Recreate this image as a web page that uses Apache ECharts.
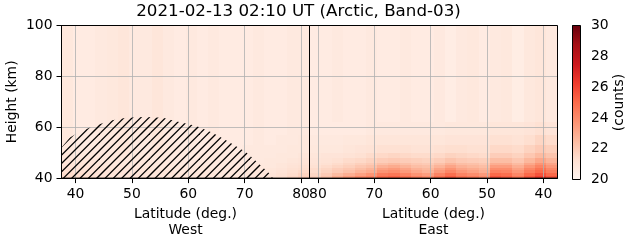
<!DOCTYPE html>
<html>
<head>
<meta charset="utf-8">
<script src="https://cdn.jsdelivr.net/npm/echarts@6/dist/echarts.min.js"></script>
<style>
html,body{margin:0;padding:0;background:#fff;}
#c{width:631px;height:243px;}
</style>
</head>
<body>
<div id="c"></div>
<script>
// ---------------- data ----------------
const titleText = '2021-02-13 02:10 UT (Arctic, Band-03)';
const redsColors = ['#fff5f0','#fee0d2','#fcbba1','#fc9272','#fb6a4a','#ef3b2c','#cb181d','#a50f15','#67000d'];
const countMin = 20, countMax = 30;
const latEdges = [37.5,39.5,41.5,43.5,45.5,47.5,49.5,51.5,53.5,55.5,57.5,59.5,61.5,63.5,65.5,67.5,69.5,71.5,73.5,75.5,77.5,79.5,81.5];
const heightEdges = [40,41,42,43,44,45,46,48,50,53,57,62,100];
const latTicks = [40,50,60,70,80];
// rows: bottom (40-41 km) to top (62-100 km); columns: latitude ascending 38.5 ... 80.5
const westCounts = [
 [21.5,21.4,21.3,21.2,21.1,21.1,21.0,21.0,21.0,20.9,20.9,20.9,20.9,20.9,20.9,20.9,20.9,21.0,21.1,21.3,21.6,21.9],
 [21.4,21.3,21.2,21.1,21.0,21.0,21.0,20.9,20.9,20.9,20.9,20.9,20.9,20.9,20.8,20.8,20.9,20.9,21.0,21.2,21.4,21.7],
 [21.3,21.2,21.1,21.0,21.0,21.0,20.9,20.9,20.9,20.9,20.8,20.8,20.8,20.8,20.8,20.8,20.8,20.9,20.9,21.1,21.3,21.5],
 [21.2,21.1,21.0,21.0,20.9,20.9,20.9,20.9,20.8,20.8,20.8,20.8,20.8,20.8,20.8,20.8,20.8,20.8,20.9,21.0,21.2,21.3],
 [21.1,21.0,21.0,20.9,20.9,20.9,20.8,20.8,20.8,20.8,20.8,20.8,20.8,20.7,20.7,20.7,20.8,20.8,20.8,20.9,21.1,21.2],
 [21.0,21.0,20.9,20.9,20.8,20.8,20.8,20.8,20.8,20.8,20.7,20.7,20.7,20.7,20.7,20.7,20.7,20.8,20.8,20.9,21.0,21.1],
 [20.9,20.9,20.9,20.8,20.8,20.8,20.8,20.8,20.7,20.7,20.7,20.7,20.7,20.7,20.7,20.7,20.7,20.7,20.8,20.8,20.9,21.0],
 [20.9,20.8,20.8,20.8,20.8,20.9,20.8,20.8,20.8,20.7,20.7,20.7,20.7,20.7,20.7,20.7,20.7,20.7,20.7,20.8,20.8,20.9],
 [20.8,20.7,20.7,20.7,20.8,20.9,20.7,20.7,20.9,20.7,20.7,20.7,20.6,20.7,20.6,20.6,20.7,20.7,20.7,20.7,20.8,20.8],
 [20.8,20.6,20.6,20.7,20.8,20.9,20.7,20.7,20.9,20.7,20.6,20.7,20.6,20.7,20.6,20.6,20.6,20.7,20.6,20.7,20.7,20.8],
 [20.8,20.6,20.6,20.7,20.8,20.9,20.7,20.7,20.9,20.7,20.6,20.7,20.6,20.7,20.6,20.6,20.6,20.7,20.6,20.6,20.7,20.7],
 [20.8,20.6,20.6,20.7,20.8,20.9,20.7,20.7,20.9,20.7,20.6,20.7,20.6,20.7,20.6,20.6,20.6,20.7,20.6,20.6,20.7,20.7]
];
const eastCounts = [
 [25.6,26.2,25.5,24.6,25.3,25.6,24.0,24.5,24.8,25.4,24.8,24.0,24.3,24.8,25.2,25.0,24.3,24.0,23.5,23.0,22.3,21.8],
 [25.0,25.6,25.0,24.1,24.8,25.0,23.5,23.9,24.2,24.8,24.2,23.4,23.7,24.2,24.6,24.4,23.7,23.3,22.9,22.5,22.0,21.6],
 [24.4,25.0,24.4,23.6,24.2,24.3,22.9,23.3,23.6,24.1,23.5,22.8,23.1,23.5,23.9,23.7,23.0,22.7,22.3,22.0,21.7,21.4],
 [24.1,24.7,24.1,23.3,23.9,23.9,22.7,23.0,23.2,23.7,23.2,22.6,22.8,23.2,23.5,23.3,22.7,22.4,22.1,21.9,21.6,21.4],
 [23.6,24.2,23.6,22.9,23.4,23.4,22.4,22.6,22.8,23.2,22.7,22.3,22.4,22.7,23.0,22.8,22.3,22.1,21.8,21.6,21.4,21.2],
 [23.2,23.7,23.1,22.5,22.9,22.9,22.1,22.3,22.4,22.7,22.3,22.0,22.1,22.3,22.5,22.3,22.0,21.8,21.6,21.4,21.2,21.1],
 [22.7,23.1,22.6,22.1,22.4,22.4,21.8,21.9,22.0,22.2,21.9,21.7,21.8,21.9,22.0,21.9,21.7,21.5,21.4,21.2,21.1,21.0],
 [22.2,22.5,22.1,21.7,21.9,21.9,21.4,21.5,21.6,21.7,21.5,21.4,21.4,21.5,21.6,21.5,21.4,21.2,21.1,21.0,21.0,20.9],
 [21.8,22.0,21.7,21.4,21.5,21.5,21.2,21.2,21.3,21.3,21.2,21.1,21.1,21.2,21.2,21.2,21.1,21.0,20.9,20.8,20.8,20.8],
 [21.4,21.6,21.3,21.1,21.2,21.2,21.0,21.0,21.0,21.0,20.9,20.9,20.9,20.9,20.9,20.9,20.9,20.8,20.8,20.7,20.7,20.7],
 [21.0,21.2,21.0,20.9,20.9,20.9,20.8,20.8,20.8,20.8,20.7,20.7,20.7,20.7,20.7,20.7,20.7,20.6,20.6,20.6,20.6,20.6],
 [20.7,20.9,20.8,20.5,20.8,20.7,20.6,20.8,20.7,20.5,20.7,20.6,20.6,20.7,20.6,20.6,20.7,20.6,20.6,20.7,20.6,20.6]
];
// hatched region (West): latitude and top height (km)
const hatchLat = [37.5,39.0,41.0,43.5,46.5,49.0,52.0,55.5,58.0,61.3,64.3,67.0,70.2,72.0,74.3,75.0];
const hatchTop = [52.0,56.0,58.5,60.7,62.7,63.7,64.0,63.7,62.3,60.6,57.8,54.5,50.3,46.7,42.0,40.0];

// ---------------- build ----------------
function cells(mat){
  const out = [];
  for (let r = 0; r < mat.length; r++)
    for (let c = 0; c < mat[r].length; c++)
      out.push([latEdges[c], latEdges[c+1], heightEdges[r], heightEdges[r+1], mat[r][c]]);
  return out;
}
function renderCell(params, api){
  const p1 = api.coord([api.value(0), api.value(2)]);
  const p2 = api.coord([api.value(1), api.value(3)]);
  const x0 = Math.round(Math.min(p1[0], p2[0])), x1 = Math.round(Math.max(p1[0], p2[0]));
  const y0 = Math.round(Math.min(p1[1], p2[1])), y1 = Math.round(Math.max(p1[1], p2[1]));
  return {type:'rect', shape:{x:x0, y:y0, width:x1-x0, height:y1-y0},
          style:{fill: api.visual('color')}};
}
function renderBar(params, api){
  const p1 = api.coord([0, api.value(1)]);
  const p2 = api.coord([1, api.value(0)]);
  const stops = redsColors.map((c,i)=>({offset: i/(redsColors.length-1), color: c})).reverse()
    .map((s)=>({offset: 1 - s.offset, color: s.color}));
  return {type:'rect', shape:{x:p1[0], y:p1[1], width:p2[0]-p1[0], height:p2[1]-p1[1]},
          style:{fill: new echarts.graphic.LinearGradient(0,0,0,1, stops)}};
}
// hatch pattern ('//' style: 12 lines per 100 px)
const hc = document.createElement('canvas');
hc.width = 50; hc.height = 50;
const hx = hc.getContext('2d');
hx.strokeStyle = '#000'; hx.lineWidth = 1.3;
for (let k = -1; k <= 13; k++){
  const c = k*50/6;
  hx.beginPath(); hx.moveTo(c+2, -2); hx.lineTo(-2, c+2); hx.stroke();
}

const FONT = 'DejaVu Sans';
const gridLine = {show:true, lineStyle:{color:'#b0b0b0', width:0.8}};
function xAx(idx, inverse, name){
  return {type:'value', gridIndex:idx, min:37.5, max:81.5, inverse:inverse, z:5,
    name:name, nameLocation:'middle', nameGap:27,
    nameTextStyle:{fontFamily:FONT, fontSize:13.9, color:'#000', lineHeight:16},
    axisLine:{show:true, lineStyle:{color:'#000', width:1}},
    axisTick:{show:true, length:5, customValues:latTicks, lineStyle:{color:'#000'}},
    axisLabel:{customValues:latTicks, margin:9, fontFamily:FONT, fontSize:13.9, color:'#000'},
    splitLine:gridLine};
}
function yAx(idx, showLabels){
  return {type:'value', gridIndex:idx, min:40, max:100, interval:20, z:5,
    name: showLabels ? 'Height (km)' : '', nameLocation:'middle', nameGap:42, nameRotate:90,
    nameTextStyle:{fontFamily:FONT, fontSize:13.9, color:'#000'},
    axisLine:{show:showLabels, lineStyle:{color:'#000'}},
    axisTick:{show:showLabels, length:5, lineStyle:{color:'#000'}},
    axisLabel:{show:showLabels, margin:9, fontFamily:FONT, fontSize:13.9, color:'#000'},
    splitLine:gridLine};
}

const chart = echarts.init(document.getElementById('c'), null, {renderer:'canvas'});
chart.setOption({
  animation:false,
  backgroundColor:'#fff',
  graphic:[{type:'text', x:298.5, y:12, z:20,
    style:{text:titleText, fontFamily:FONT, fontSize:16.7, fill:'#000', align:'center', verticalAlign:'middle'}}],
  grid:[
    {left:61.5, top:25.5, width:248, height:154, show:true, borderColor:'#000', borderWidth:1, backgroundColor:'transparent', z:10},
    {left:309.5, top:25.5, width:248, height:154, show:true, borderColor:'#000', borderWidth:1, backgroundColor:'transparent', z:10},
    {left:572.5, top:25.5, width:8, height:154, show:true, borderColor:'#000', borderWidth:1, backgroundColor:'transparent', z:10}
  ],
  xAxis:[
    xAx(0, false, 'Latitude (deg.)\nWest'),
    xAx(1, true, 'Latitude (deg.)\nEast'),
    {type:'value', gridIndex:2, min:0, max:1, show:false}
  ],
  yAxis:[
    yAx(0, true),
    yAx(1, false),
    {type:'value', gridIndex:2, min:countMin, max:countMax, interval:2, position:'right',
     name:'(counts)', nameLocation:'middle', nameGap:32, nameRotate:90,
     nameTextStyle:{fontFamily:FONT, fontSize:13.9, color:'#000'},
     axisLine:{show:false}, axisTick:{show:true, length:5, lineStyle:{color:'#000'}},
     axisLabel:{margin:10.5, fontFamily:FONT, fontSize:13.9, color:'#000'},
     splitLine:{show:false}}
  ],
  visualMap:{type:'continuous', show:false, min:countMin, max:countMax, dimension:4,
    seriesIndex:[0,1], inRange:{color:redsColors}},
  series:[
    {type:'custom', xAxisIndex:0, yAxisIndex:0, renderItem:renderCell, data:cells(westCounts),
     encode:{x:[0,1], y:[2,3]}, z:2, silent:true},
    {type:'custom', xAxisIndex:1, yAxisIndex:1, renderItem:renderCell, data:cells(eastCounts),
     encode:{x:[0,1], y:[2,3]}, z:2, silent:true},
    {type:'line', xAxisIndex:0, yAxisIndex:0, symbol:'none', z:6, silent:true,
     data:hatchLat.map((v,i)=>[v, hatchTop[i]]),
     lineStyle:{width:0, opacity:0},
     areaStyle:{origin:'start', opacity:1, color:{image:hc, repeat:'repeat'}}},
    {type:'custom', xAxisIndex:2, yAxisIndex:2, renderItem:renderBar, data:[[countMin, countMax]],
     encode:{y:[0,1]}, z:2, silent:true}
  ]
});
</script>
</body>
</html>
